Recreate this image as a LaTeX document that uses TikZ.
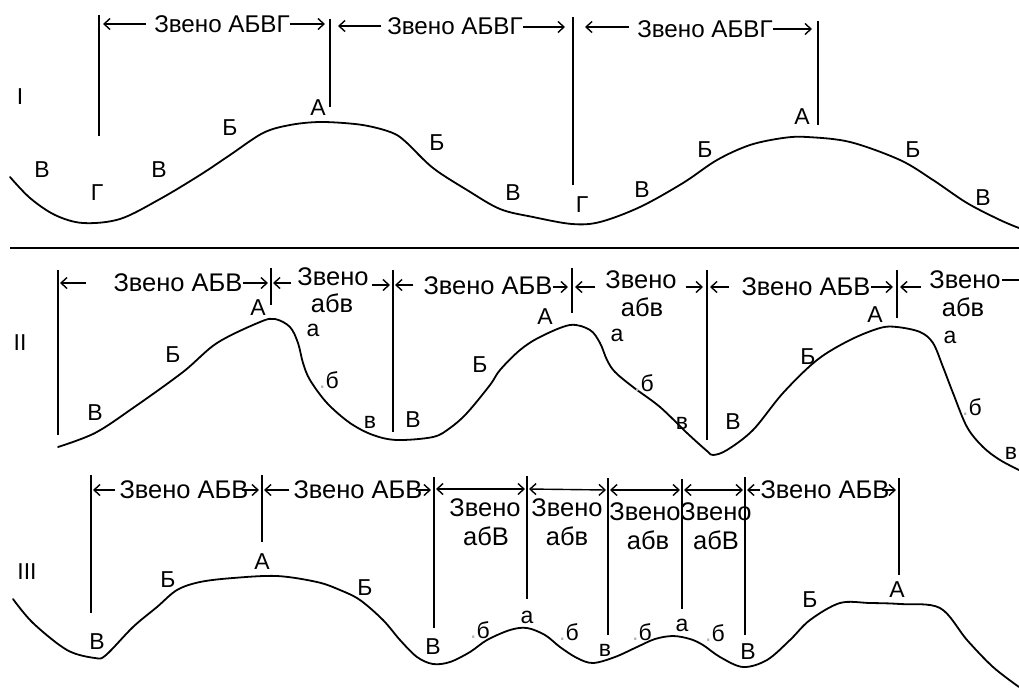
\documentclass[tikz,border=0pt]{standalone}
\usepackage{fontspec}
\setmainfont{Liberation Sans}
\usetikzlibrary{arrows.meta,calc}
\tikzset{
  curve/.style={line width=1.8pt, line join=round, line cap=round},
  vline/.style={line width=1.8pt},
  divider/.style={line width=2.4pt},
  arr/.style={line width=1.4pt, -{Straight Barb[length=6pt,width=11pt]}},
  darr/.style={line width=1.4pt, {Straight Barb[length=6pt,width=11pt]}-{Straight Barb[length=6pt,width=11pt]}},
  ttl/.style={inner sep=0pt, font=\fontsize{24.2}{28}\selectfont},
  ttlb/.style={inner sep=0pt, font=\fontsize{25.5}{29}\selectfont},
  lbl/.style={inner sep=0pt, font=\fontsize{23}{26}\selectfont},
}
\newcommand{\dotb}{{\color{black!30}.}б}
\begin{document}
\begin{tikzpicture}[x=1pt,y=-1pt]
\clip (0,0) rectangle (1019,699);
\fill[white] (0,0) rectangle (1019,699);

% ---------------- Section I ----------------
\coordinate (I1t) at (99,15);  \coordinate (I1b) at (99,136);
\coordinate (I2t) at (330,19); \coordinate (I2b) at (330,107);
\coordinate (I3t) at (573,17); \coordinate (I3b) at (573,185);
\coordinate (I4t) at (818,21); \coordinate (I4b) at (818,125);
\foreach \n in {I1,I2,I3,I4} \draw[vline] (\n t) -- (\n b);

\node[ttl] (zI1) at (222,24) {Звено АБВГ};
\node[ttl] (zI2) at (455,26) {Звено АБВГ};
\node[ttl] (zI3) at (705,29) {Звено АБВГ};

\coordinate (hI1l) at (103,24);  \coordinate (hI1r) at (325,24);
\coordinate (hI2l) at (338,26);  \coordinate (hI2r) at (565,27);
\coordinate (hI3l) at (585,27);  \coordinate (hI3r) at (812,29);
\draw[arr] ($(zI1.west)+(-8,0)$) -- (hI1l);
\draw[arr] (zI1.east) -- (hI1r);
\draw[arr] ($(zI2.west)+(-6,0)$) -- (hI2l);
\draw[arr] (zI2.east |- hI2r) -- (hI2r);
\draw[arr] ($(zI3.west |- hI3l)+(-8,0)$) -- (hI3l);
\draw[arr] (zI3.east) -- (hI3r);

\draw[curve] plot[smooth, tension=0.55] coordinates {
 (10,177) (30,198) (55,215) (83,223) (120,219) (160,199) (200,175) (230,155)
 (263,133) (290,125) (320,122) (355,124) (377,128) (395,134) (407,143) (433,168)
 (467,190) (500,209) (533,217) (572,224) (600,222) (640,207) (683,183) (717,160)
 (750,145) (783,138) (807,137) (850,142) (900,160) (933,180) (967,203) (1000,220) (1019,228)};

\node[lbl] (rI) at (20,97) {I};
\node[lbl] (lI1) at (42,170) {В};
\node[lbl] (lI2) at (97,193) {Г};
\node[lbl] (lI3) at (159,170) {В};
\node[lbl] (lI4) at (230,128) {Б};
\node[lbl] (lI5) at (318,108) {А};
\node[lbl] (lI6) at (437,143) {Б};
\node[lbl] (lI7) at (513,193) {В};
\node[lbl] (lI8) at (582,205) {Г};
\node[lbl] (lI9) at (642,190) {В};
\node[lbl] (lI10) at (705,150) {Б};
\node[lbl] (lI11) at (802,117) {А};
\node[lbl] (lI12) at (913,150) {Б};
\node[lbl] (lI13) at (983,198) {В};

% divider
\coordinate (d1) at (10,248); \coordinate (d2) at (1019,248);
\draw[divider] (d1) -- (d2);

% ---------------- Section II ----------------
\coordinate (II1t) at (58,270);  \coordinate (II1b) at (58,435);
\coordinate (II2t) at (271,268); \coordinate (II2b) at (271,305);
\coordinate (II3t) at (393,270); \coordinate (II3b) at (393,432);
\coordinate (II4t) at (572,268); \coordinate (II4b) at (572,313);
\coordinate (II5t) at (707,270); \coordinate (II5b) at (707,440);
\coordinate (II6t) at (897,270); \coordinate (II6b) at (897,318);
\foreach \n in {II1,II2,II3,II4,II5,II6} \draw[vline] (\n t) -- (\n b);

\node[ttlb] (zII1) at (178,283) {Звено АБВ};
\node[ttlb] (zII2a) at (333,277) {Звено};
\node[ttlb] (zII2b) at (332,303) {абв};
\node[ttlb] (zII3) at (488,286) {Звено АБВ};
\node[ttlb] (zII4a) at (641,280) {Звено};
\node[ttlb] (zII4b) at (642,307) {абв};
\node[ttlb] (zII5) at (806,287) {Звено АБВ};
\node[ttlb] (zII6a) at (965,280) {Звено};
\node[ttlb] (zII6b) at (963,307) {абв};

\coordinate (hII1l) at (60,283);  \coordinate (hII1r) at (268,283);
\coordinate (hII2l) at (273,283); \coordinate (hII2r) at (390,285);
\coordinate (hII3l) at (395,285); \coordinate (hII3r) at (568,287);
\coordinate (hII4l) at (575,287); \coordinate (hII4r) at (703,287);
\coordinate (hII5l) at (710,287); \coordinate (hII5r) at (893,287);
\coordinate (hII6l) at (900,287); \coordinate (eII6) at (1030,280);
\draw[arr] ($(zII1.west)+(-27,0)$) -- (hII1l);
\draw[arr] (zII1.east) -- (hII1r);
\draw[arr] ($(zII2a.west |- hII2l)+(-6,0)$) -- (hII2l);
\draw[arr] ($(zII2a.east |- hII2r)+(3,0)$) -- (hII2r);
\draw[arr] ($(zII3.west |- hII3l)+(-10,0)$) -- (hII3l);
\draw[arr] (zII3.east |- hII3r) -- (hII3r);
\draw[arr] ($(zII4a.west |- hII4l)+(-10,0)$) -- (hII4l);
\draw[arr] ($(zII4a.east |- hII4r)+(9,0)$) -- (hII4r);
\draw[arr] ($(zII5.west)+(-12,0)$) -- (hII5l);
\draw[arr] (zII5.east) -- (hII5r);
\draw[arr] ($(zII6a.west |- hII6l)+(-8,0)$) -- (hII6l);
\draw[line width=1.4pt] ($(zII6a.east)+(1,0)$) -- (eII6);

\draw[curve] plot[smooth, tension=0.55] coordinates {
 (58,447) (95,433) (133,408) (183,372) (217,343) (260,322) (275,319) (290,327)
 (298,343) (303,363) (310,380) (327,403) (350,423) (373,435) (397,440) (433,437)
 (450,428) (467,413) (490,385) (500,370) (520,350) (540,337) (570,325) (590,330)
 (600,343) (607,360) (615,372) (633,387) (660,407) (687,433) (707,451) (713,455)
 (727,450) (753,430) (783,393) (817,360) (850,340) (880,328) (897,327) (920,332)
 (933,343) (943,367) (953,393) (967,427) (983,447) (1000,460) (1019,470)};

\node[lbl] (rII) at (20,343) {II};
\node[lbl] (lII1) at (95,413) {В};
\node[lbl] (lII2) at (173,355) {Б};
\node[lbl] (lII3) at (258,308) {А};
\node[lbl] (lII4) at (313,330) {а};
\node[lbl] (lII5) at (329,380) {\dotb};
\node[lbl] (lII6) at (370,422) {в};
\node[lbl] (lII7) at (413,420) {В};
\node[lbl] (lII8) at (480,365) {Б};
\node[lbl] (lII9) at (545,317) {А};
\node[lbl] (lII10) at (617,335) {а};
\node[lbl] (lII11) at (644,383) {\dotb};
\node[lbl] (lII12) at (682,423) {в};
\node[lbl] (lII13) at (733,422) {В};
\node[lbl] (lII14) at (808,357) {Б};
\node[lbl] (lII15) at (875,315) {А};
\node[lbl] (lII16) at (950,337) {а};
\node[lbl] (lII17) at (972,407) {\dotb};
\node[lbl] (lII18) at (1011,453) {в};

% ---------------- Section III ----------------
\coordinate (III1t) at (91,475);  \coordinate (III1b) at (91,613);
\coordinate (III2t) at (262,475); \coordinate (III2b) at (262,542);
\coordinate (III3t) at (434,477); \coordinate (III3b) at (434,628);
\coordinate (III4t) at (527,476); \coordinate (III4b) at (527,599);
\coordinate (III5t) at (608,478); \coordinate (III5b) at (608,635);
\coordinate (III6t) at (682,479); \coordinate (III6b) at (682,609);
\coordinate (III7t) at (745,477); \coordinate (III7b) at (745,635);
\coordinate (III8t) at (899,478); \coordinate (III8b) at (899,575);
\foreach \n in {III1,III2,III3,III4,III5,III6,III7,III8} \draw[vline] (\n t) -- (\n b);

\node[ttlb] (zIII1) at (184,490) {Звено АБВ};
\node[ttlb] (zIII2) at (358,490) {Звено АБВ};
\node[ttlb] (zIII3a) at (485,508) {Звено};
\node[ttlb] (zIII3b) at (486,536) {абВ};
\node[ttlb] (zIII4a) at (567,508) {Звено};
\node[ttlb] (zIII4b) at (567,536) {абв};
\node[ttlb] (zIII5a) at (645,512) {Звено};
\node[ttlb] (zIII5b) at (648,540) {абв};
\node[ttlb] (zIII6a) at (716,512) {Звено};
\node[ttlb] (zIII6b) at (716,540) {абВ};
\node[ttlb] (zIII7) at (825,490) {Звено АБВ};

\coordinate (hIII1l) at (93,490);  \coordinate (hIII1r) at (259,490);
\coordinate (hIII2l) at (264,490); \coordinate (hIII2r) at (431,490);
\coordinate (hIII7l) at (747,490); \coordinate (hIII7r) at (896,490);
\draw[arr] ($(zIII1.west)+(-4,0)$) -- (hIII1l);
\draw[arr] ($(zIII1.east)+(-7,0)$) -- (hIII1r);
\draw[arr] ($(zIII2.west)+(-4,0)$) -- (hIII2l);
\draw[arr] ($(zIII2.east)+(-7,0)$) -- (hIII2r);
\draw[arr] (zIII7.west) -- (hIII7l);
\draw[arr] ($(zIII7.east)+(-8,0)$) -- (hIII7r);

\coordinate (m3r) at (436,489); \coordinate (m4l) at (525,489);
\coordinate (m4r) at (529,489); \coordinate (m5l) at (606,490);
\coordinate (m5r) at (610,490); \coordinate (m6l) at (680,490);
\coordinate (m6r) at (684,490); \coordinate (m7l) at (743,490);
\draw[darr] (m3r) -- (m4l);
\draw[darr] (m4r) -- (m5l);
\draw[darr] (m5r) -- (m6l);
\draw[darr] (m6r) -- (m7l);

\draw[curve] plot[smooth, tension=0.55] coordinates {
 (13,599) (33,623) (67,650) (95,658) (106,655) (133,627) (157,607) (177,590)
 (200,582) (233,578) (277,576) (317,582) (340,590) (360,600) (383,620) (400,640)
 (417,657) (433,664) (450,662) (470,652) (487,640) (510,630) (527,628) (545,635)
 (560,647) (577,658) (593,663) (615,657) (637,647) (655,639) (673,636) (690,639)
 (703,645) (720,657) (743,667) (767,660) (790,640) (810,620) (840,603) (870,603)
 (900,604) (940,608) (967,640) (993,667) (1019,687)};

\node[lbl] (rIII) at (27,572) {III};
\node[lbl] (lIII1) at (97,642) {В};
\node[lbl] (lIII2) at (168,580) {Б};
\node[lbl] (lIII3) at (262,562) {А};
\node[lbl] (lIII4) at (365,588) {Б};
\node[lbl] (lIII5) at (433,647) {В};
\node[lbl] (lIII6) at (480,630) {\dotb};
\node[lbl] (lIII7) at (527,617) {а};
\node[lbl] (lIII8) at (569,632) {\dotb};
\node[lbl] (lIII9) at (605,650) {в};
\node[lbl] (lIII10) at (642,632) {\dotb};
\node[lbl] (lIII11) at (682,625) {а};
\node[lbl] (lIII12) at (715,633) {\dotb};
\node[lbl] (lIII13) at (748,652) {В};
\node[lbl] (lIII14) at (810,600) {Б};
\node[lbl] (lIII15) at (897,590) {А};
\end{tikzpicture}
\end{document}
